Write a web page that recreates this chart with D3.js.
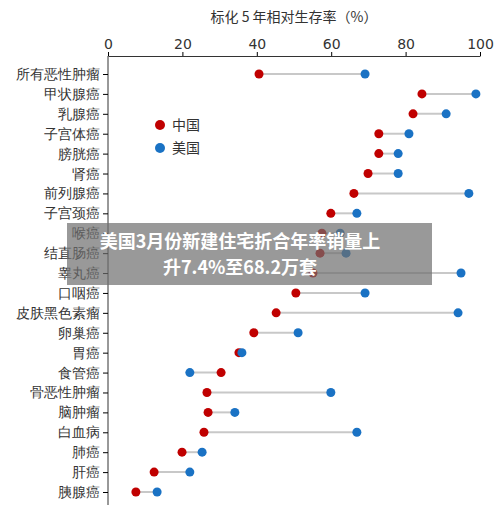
<!DOCTYPE html><html><head><meta charset="utf-8"><script src="https://cdn.jsdelivr.net/npm/d3@7"></script>
<style>body{margin:0;background:#fff}svg{font-family:"Noto Sans CJK SC",sans-serif}</style></head><body><svg id="c" width="500" height="509"></svg>
<script>
const categories=["所有恶性肿瘤","甲状腺癌","乳腺癌","子宫体癌","膀胱癌","肾癌","前列腺癌","子宫颈癌","喉癌","结直肠癌","睾丸癌","口咽癌","皮肤黑色素瘤","卵巢癌","胃癌","食管癌","骨恶性肿瘤","脑肿瘤","白血病","肺癌","肝癌","胰腺癌"];
const china=[40.6,84.4,82.0,72.8,72.8,69.9,66.1,59.9,57.5,57.0,55.1,50.5,45.2,39.2,35.2,30.4,26.6,26.9,25.8,19.9,12.4,7.5];
const usa=[69.1,98.9,90.9,80.9,78.0,78.0,97.0,66.9,62.4,64.0,94.9,69.1,94.1,51.1,36.0,22.0,59.9,34.1,66.9,25.3,22.0,13.2];
const xTicks=[0,20,40,60,80,100];
const svg=d3.select("#c");
const x=d3.scaleLinear().domain([0,100]).range([108,480]);
const y=d3.scalePoint().domain(categories).range([74,492]);
const red="#c00000",blue="#1a72c4";
svg.append("text").attr("x",294).attr("y",22).attr("text-anchor","middle").attr("font-size",14).attr("fill","#333").text("标化 5 年相对生存率（%）");
const xa=svg.append("g").attr("transform","translate(0,56)").call(d3.axisTop(x).tickValues(xTicks).tickSize(4).tickPadding(3).tickSizeOuter(0));
xa.selectAll("text").attr("font-size",14).attr("fill","#333").attr("font-family","DejaVu Sans");
xa.select(".domain").attr("stroke","#333");
const ya=svg.append("g").attr("transform","translate(108,0)").call(d3.axisLeft(y).tickSize(5).tickSizeOuter(0));
ya.select(".domain").attr("d","M0,56V505").attr("stroke","#333");
ya.selectAll("text").attr("font-size",14).attr("fill","#333");
categories.forEach((c,i)=>{
 svg.append("line").attr("x1",x(china[i])).attr("x2",x(usa[i])).attr("y1",y(c)).attr("y2",y(c)).attr("stroke","#c8c8c8").attr("stroke-width",2);
});
svg.selectAll(".cn").data(categories).enter().append("circle").attr("cx",(d,i)=>x(china[i])).attr("cy",d=>y(d)).attr("r",4.5).attr("fill",red);
svg.selectAll(".us").data(categories).enter().append("circle").attr("cx",(d,i)=>x(usa[i])).attr("cy",d=>y(d)).attr("r",4.5).attr("fill",blue);
[["中国",red,125],["美国",blue,148]].forEach(([t,c,yy])=>{
 svg.append("circle").attr("cx",160).attr("cy",yy).attr("r",5).attr("fill",c);
 svg.append("text").attr("x",172).attr("y",yy+5).attr("font-size",14).attr("fill","#333").text(t);
});
svg.append("rect").attr("x",67).attr("y",223).attr("width",365).attr("height",62).attr("fill","rgba(110,110,110,0.7)");
svg.append("text").attr("x",240).attr("y",248).attr("text-anchor","middle").attr("font-size",18).attr("font-weight","bold").attr("fill","#fff").text("美国3月份新建住宅折合年率销量上");
svg.append("text").attr("x",240).attr("y",274).attr("text-anchor","middle").attr("font-size",18).attr("font-weight","bold").attr("fill","#fff").text("升7.4%至68.2万套");
</script></body></html>
